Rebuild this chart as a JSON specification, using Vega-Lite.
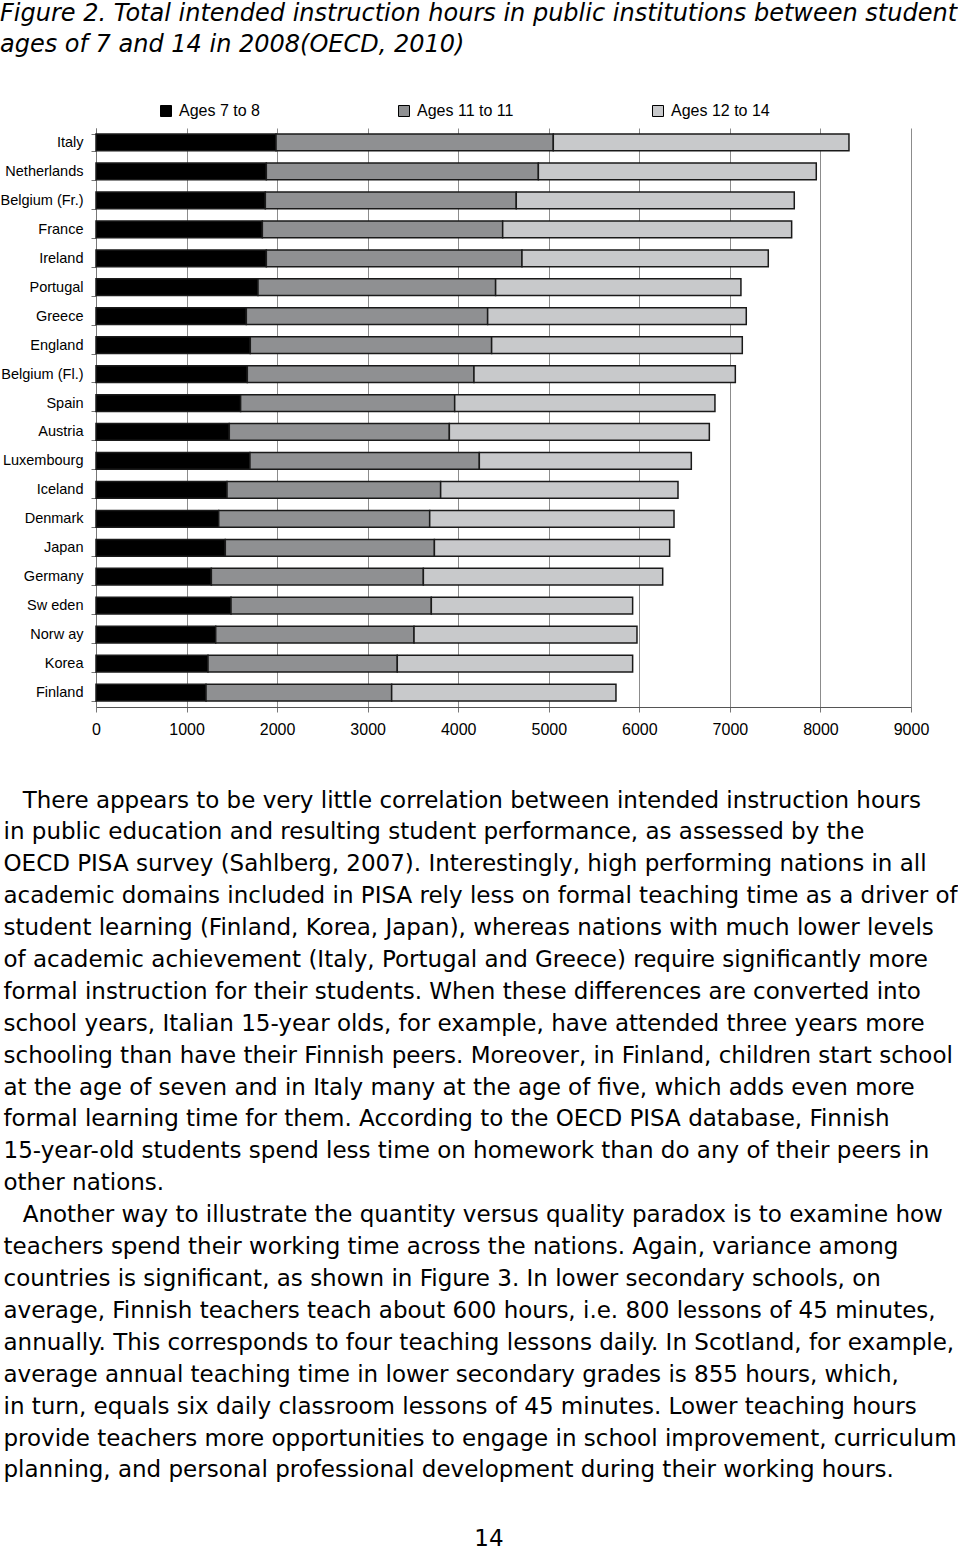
{
  "$schema": "https://vega.github.io/schema/vega-lite/v6.json",
  "padding": {"left": 0, "top": 2, "right": 0, "bottom": 0},
  "background": "white",
  "config": {"view": {"stroke": null}, "font": "Liberation Sans", "concat": {"spacing": 46}},
  "title": {
    "text": ["Figure 2. Total intended instruction hours in public institutions between student", "ages of 7 and 14 in 2008(OECD, 2010)"],
    "anchor": "start",
    "frame": "bounds",
    "font": "DejaVu Sans",
    "fontStyle": "italic",
    "fontSize": 24,
    "fontWeight": "normal",
    "lineHeight": 31,
    "color": "#000000",
    "offset": 46
  },
  "vconcat": [
    {
      "width": 815,
      "height": 579,
      "data": {"values": [
        {"country": "Italy", "group": "Ages 7 to 8", "hours": 1988},
        {"country": "Italy", "group": "Ages 11 to 11", "hours": 3062},
        {"country": "Italy", "group": "Ages 12 to 14", "hours": 3265},
        {"country": "Netherlands", "group": "Ages 7 to 8", "hours": 1881},
        {"country": "Netherlands", "group": "Ages 11 to 11", "hours": 3004},
        {"country": "Netherlands", "group": "Ages 12 to 14", "hours": 3069},
        {"country": "Belgium (Fr.)", "group": "Ages 7 to 8", "hours": 1870},
        {"country": "Belgium (Fr.)", "group": "Ages 11 to 11", "hours": 2771},
        {"country": "Belgium (Fr.)", "group": "Ages 12 to 14", "hours": 3070},
        {"country": "France", "group": "Ages 7 to 8", "hours": 1837},
        {"country": "France", "group": "Ages 11 to 11", "hours": 2654},
        {"country": "France", "group": "Ages 12 to 14", "hours": 3191},
        {"country": "Ireland", "group": "Ages 7 to 8", "hours": 1881},
        {"country": "Ireland", "group": "Ages 11 to 11", "hours": 2823},
        {"country": "Ireland", "group": "Ages 12 to 14", "hours": 2720},
        {"country": "Portugal", "group": "Ages 7 to 8", "hours": 1789},
        {"country": "Portugal", "group": "Ages 11 to 11", "hours": 2624},
        {"country": "Portugal", "group": "Ages 12 to 14", "hours": 2709},
        {"country": "Greece", "group": "Ages 7 to 8", "hours": 1660},
        {"country": "Greece", "group": "Ages 11 to 11", "hours": 2665},
        {"country": "Greece", "group": "Ages 12 to 14", "hours": 2856},
        {"country": "England", "group": "Ages 7 to 8", "hours": 1704},
        {"country": "England", "group": "Ages 11 to 11", "hours": 2665},
        {"country": "England", "group": "Ages 12 to 14", "hours": 2768},
        {"country": "Belgium (Fl.)", "group": "Ages 7 to 8", "hours": 1671},
        {"country": "Belgium (Fl.)", "group": "Ages 11 to 11", "hours": 2503},
        {"country": "Belgium (Fl.)", "group": "Ages 12 to 14", "hours": 2886},
        {"country": "Spain", "group": "Ages 7 to 8", "hours": 1597},
        {"country": "Spain", "group": "Ages 11 to 11", "hours": 2364},
        {"country": "Spain", "group": "Ages 12 to 14", "hours": 2874},
        {"country": "Austria", "group": "Ages 7 to 8", "hours": 1472},
        {"country": "Austria", "group": "Ages 11 to 11", "hours": 2430},
        {"country": "Austria", "group": "Ages 12 to 14", "hours": 2871},
        {"country": "Luxembourg", "group": "Ages 7 to 8", "hours": 1700},
        {"country": "Luxembourg", "group": "Ages 11 to 11", "hours": 2533},
        {"country": "Luxembourg", "group": "Ages 12 to 14", "hours": 2341},
        {"country": "Iceland", "group": "Ages 7 to 8", "hours": 1447},
        {"country": "Iceland", "group": "Ages 11 to 11", "hours": 2359},
        {"country": "Iceland", "group": "Ages 12 to 14", "hours": 2621},
        {"country": "Denmark", "group": "Ages 7 to 8", "hours": 1355},
        {"country": "Denmark", "group": "Ages 11 to 11", "hours": 2330},
        {"country": "Denmark", "group": "Ages 12 to 14", "hours": 2698},
        {"country": "Japan", "group": "Ages 7 to 8", "hours": 1428},
        {"country": "Japan", "group": "Ages 11 to 11", "hours": 2309},
        {"country": "Japan", "group": "Ages 12 to 14", "hours": 2598},
        {"country": "Germany", "group": "Ages 7 to 8", "hours": 1274},
        {"country": "Germany", "group": "Ages 11 to 11", "hours": 2341},
        {"country": "Germany", "group": "Ages 12 to 14", "hours": 2643},
        {"country": "Sw eden", "group": "Ages 7 to 8", "hours": 1491},
        {"country": "Sw eden", "group": "Ages 11 to 11", "hours": 2212},
        {"country": "Sw eden", "group": "Ages 12 to 14", "hours": 2223},
        {"country": "Norw ay", "group": "Ages 7 to 8", "hours": 1322},
        {"country": "Norw ay", "group": "Ages 11 to 11", "hours": 2190},
        {"country": "Norw ay", "group": "Ages 12 to 14", "hours": 2462},
        {"country": "Korea", "group": "Ages 7 to 8", "hours": 1237},
        {"country": "Korea", "group": "Ages 11 to 11", "hours": 2090},
        {"country": "Korea", "group": "Ages 12 to 14", "hours": 2599},
        {"country": "Finland", "group": "Ages 7 to 8", "hours": 1215},
        {"country": "Finland", "group": "Ages 11 to 11", "hours": 2050},
        {"country": "Finland", "group": "Ages 12 to 14", "hours": 2477}
      ]},
      "transform": [
        {"calculate": "indexof(['Ages 7 to 8', 'Ages 11 to 11', 'Ages 12 to 14'], datum.group)", "as": "stackOrder"}
      ],
      "mark": {"type": "bar", "stroke": "#1a1a1a", "strokeWidth": 1.5},
      "encoding": {
        "y": {
          "field": "country", "type": "nominal", "sort": null,
          "scale": {"paddingInner": 0.42, "paddingOuter": 0.21},
          "axis": {
            "title": null, "tickBand": "extent", "tickSize": 5, "labelPadding": 8,
            "labelFontSize": 14.5, "labelColor": "#000000", "labelFont": "Liberation Sans",
            "domainColor": "#777777", "tickColor": "#777777", "minExtent": 92, "maxExtent": 92,
            "grid": false
          }
        },
        "x": {
          "field": "hours", "type": "quantitative", "stack": "zero",
          "scale": {"domain": [0, 9000], "nice": false},
          "axis": {
            "values": [0, 1000, 2000, 3000, 4000, 5000, 6000, 7000, 8000, 9000],
            "format": "d", "labelFlush": false,
            "grid": true, "gridColor": "#8c8c8c", "gridWidth": 1,
            "domainColor": "#555555", "tickColor": "#777777", "tickSize": 5,
            "labelPadding": 9, "labelFontSize": 16, "labelColor": "#000000", "labelFont": "Liberation Sans",
            "title": [
              "\u200b\u00a0\u00a0\u2009There appears to be very little correlation between intended instruction hours",
              "in public education and resulting student performance, as assessed by the",
              "OECD PISA survey (Sahlberg, 2007). Interestingly, high performing nations in all",
              "academic domains included in PISA rely less on formal teaching time as a driver of",
              "student learning (Finland, Korea, Japan), whereas nations with much lower levels",
              "of academic achievement (Italy, Portugal and Greece) require significantly more",
              "formal instruction for their students. When these differences are converted into",
              "school years, Italian 15-year olds, for example, have attended three years more",
              "schooling than have their Finnish peers. Moreover, in Finland, children start school",
              "at the age of seven and in Italy many at the age of five, which adds even more",
              "formal learning time for them. According to the OECD PISA database, Finnish",
              "15-year-old students spend less time on homework than do any of their peers in",
              "other nations.",
              "\u200b\u00a0\u00a0\u2009Another way to illustrate the quantity versus quality paradox is to examine how",
              "teachers spend their working time across the nations. Again, variance among",
              "countries is significant, as shown in Figure 3. In lower secondary schools, on",
              "average, Finnish teachers teach about 600 hours, i.e. 800 lessons of 45 minutes,",
              "annually. This corresponds to four teaching lessons daily. In Scotland, for example,",
              "average annual teaching time in lower secondary grades is 855 hours, which,",
              "in turn, equals six daily classroom lessons of 45 minutes. Lower teaching hours",
              "provide teachers more opportunities to engage in school improvement, curriculum",
              "planning, and personal professional development during their working hours."
            ],
            "titleAnchor": "start", "titleAlign": "left", "titleBaseline": "top",
            "titleX": -93, "titleY": 82,
            "titleFont": "DejaVu Sans", "titleFontSize": 23, "titleFontWeight": "normal",
            "titleLineHeight": 31.9, "titleColor": "#000000", "titleLimit": 2000
          }
        },
        "order": {"field": "stackOrder", "type": "quantitative", "sort": "ascending"},
        "color": {
          "field": "group", "type": "nominal",
          "sort": ["Ages 7 to 8", "Ages 11 to 11", "Ages 12 to 14"],
          "scale": {"domain": ["Ages 7 to 8", "Ages 11 to 11", "Ages 12 to 14"], "range": ["#000000", "#8f9092", "#c8c9cb"]},
          "legend": {
            "orient": "none", "legendX": 62, "legendY": -25, "direction": "horizontal",
            "title": null, "symbolType": "square", "symbolSize": 121,
            "symbolStrokeColor": "#000000", "symbolStrokeWidth": 1,
            "labelFontSize": 16, "labelFont": "Liberation Sans", "labelColor": "#000000",
            "labelOffset": 5, "columnPadding": 136
          }
        }
      }
    },
    {
      "width": 786,
      "height": 20,
      "data": {"values": [{"page": "14"}]},
      "mark": {"type": "text", "font": "DejaVu Sans", "fontSize": 23, "color": "#000000"},
      "encoding": {"text": {"field": "page", "type": "nominal"}}
    }
  ]
}
